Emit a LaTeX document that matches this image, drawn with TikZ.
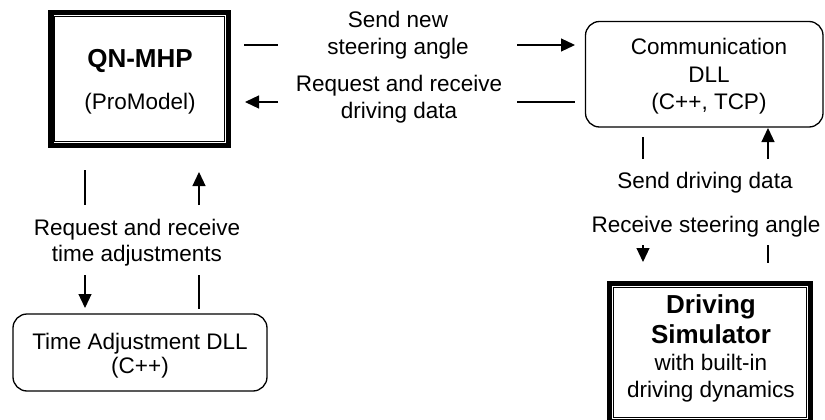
\documentclass[tikz,border=0pt]{standalone}
\usepackage{fontspec}
\setmainfont{Liberation Sans}
\usetikzlibrary{arrows.meta}
\begin{document}
\begin{tikzpicture}[x=1pt,y=-1pt,
  txt/.style={font=\fontsize{22.5}{27}\selectfont, inner sep=0pt, anchor=base},
  ttl/.style={font=\fontsize{26}{30}\selectfont\bfseries, inner sep=0pt, anchor=base},
  heavybox/.style={draw, line width=5.2pt, inner sep=0pt, outer sep=0pt},
  softbox/.style={draw, line width=1.3pt, rounded corners=14pt, inner sep=0pt, outer sep=0pt},
  conn/.style={line width=1.2pt},
  arr/.style={conn, -{Triangle[length=14pt,width=13pt]}}]
\useasboundingbox (0,0) rectangle (825,420);

% boxes
\node[heavybox, minimum width=177.5pt, minimum height=133pt] (qn) at (139.75,79) {};
\draw[line width=0.8pt] ([shift={(3.7,3.7)}]qn.north west) rectangle ([shift={(-3.7,-3.7)}]qn.south east);
\node[heavybox, minimum width=201pt, minimum height=138pt] (ds) at (710,352.5) {};
\draw[line width=0.8pt] ([shift={(3.7,3.7)}]ds.north west) rectangle ([shift={(-3.7,-3.7)}]ds.south east);
\node[softbox, minimum width=237.5pt, minimum height=105.5pt] (comm) at (704.25,74.25) {};
\node[softbox, minimum width=254pt, minimum height=77pt] (ta) at (140,352.5) {};

% box texts
\node[ttl] (qnA) at (140,68) {QN-MHP};
\node[txt] (qnB) at (140,110) {(ProModel)};
\node[txt] (cmA) at (709,55) {Communication};
\node[txt] (cmB) at (709,83) {DLL};
\node[txt] (cmC) at (709,110) {(C++, TCP)};
\node[txt] (taA) at (140,349) {Time Adjustment DLL};
\node[txt] (taB) at (140,373) {(C++)};
\node[ttl] (dsA) at (711,313) {Driving};
\node[ttl] (dsB) at (711,343) {Simulator};
\node[txt] (dsC) at (711,370) {with built-in};
\node[txt] (dsD) at (711,397) {driving dynamics};

% connector labels
\node[txt] (l1a) at (398,28) {Send new};
\node[txt] (l1b) at (398,55) {steering angle};
\node[txt] (l2a) at (399,92) {Request and receive};
\node[txt] (l2b) at (399,118) {driving data};
\node[txt] (l3a) at (137,235) {Request and receive};
\node[txt] (l3b) at (137,261) {time adjustments};
\node[txt] (l4) at (705,188) {Send driving data};
\node[txt] (l5) at (706,232) {Receive steering angle};

% connector end points
\coordinate (a1) at (244,45);  \coordinate (a2) at (278,45);
\coordinate (a3) at (517,45);  \coordinate (a4) at (575,45);
\coordinate (b1) at (278,102); \coordinate (b2) at (245,102);
\coordinate (b3) at (517,102); \coordinate (b4) at (575,102);
\coordinate (c1) at (85,170);  \coordinate (c2) at (85,205);
\coordinate (c3) at (199,205); \coordinate (c4) at (199,172);
\coordinate (c5) at (85,275);  \coordinate (c6) at (85,308);
\coordinate (c7) at (199,275); \coordinate (c8) at (199,309);
\coordinate (d1) at (643,137); \coordinate (d2) at (643,159);
\coordinate (d3) at (768,159); \coordinate (d4) at (768,128);
\coordinate (d5) at (643,245); \coordinate (d6) at (643,262);
\coordinate (d7) at (768,245); \coordinate (d8) at (768,263);

% connectors
\draw[conn] (a1) -- (a2);
\draw[arr] (a3) -- (a4);
\draw[arr] (b1) -- (b2);
\draw[conn] (b3) -- (b4);
\draw[conn] (c1) -- (c2);
\draw[arr] (c3) -- (c4);
\draw[arr] (c5) -- (c6);
\draw[conn] (c7) -- (c8);
\draw[conn] (d1) -- (d2);
\draw[arr] (d3) -- (d4);
\draw[arr] (d5) -- (d6);
\draw[conn] (d7) -- (d8);
\end{tikzpicture}
\end{document}
